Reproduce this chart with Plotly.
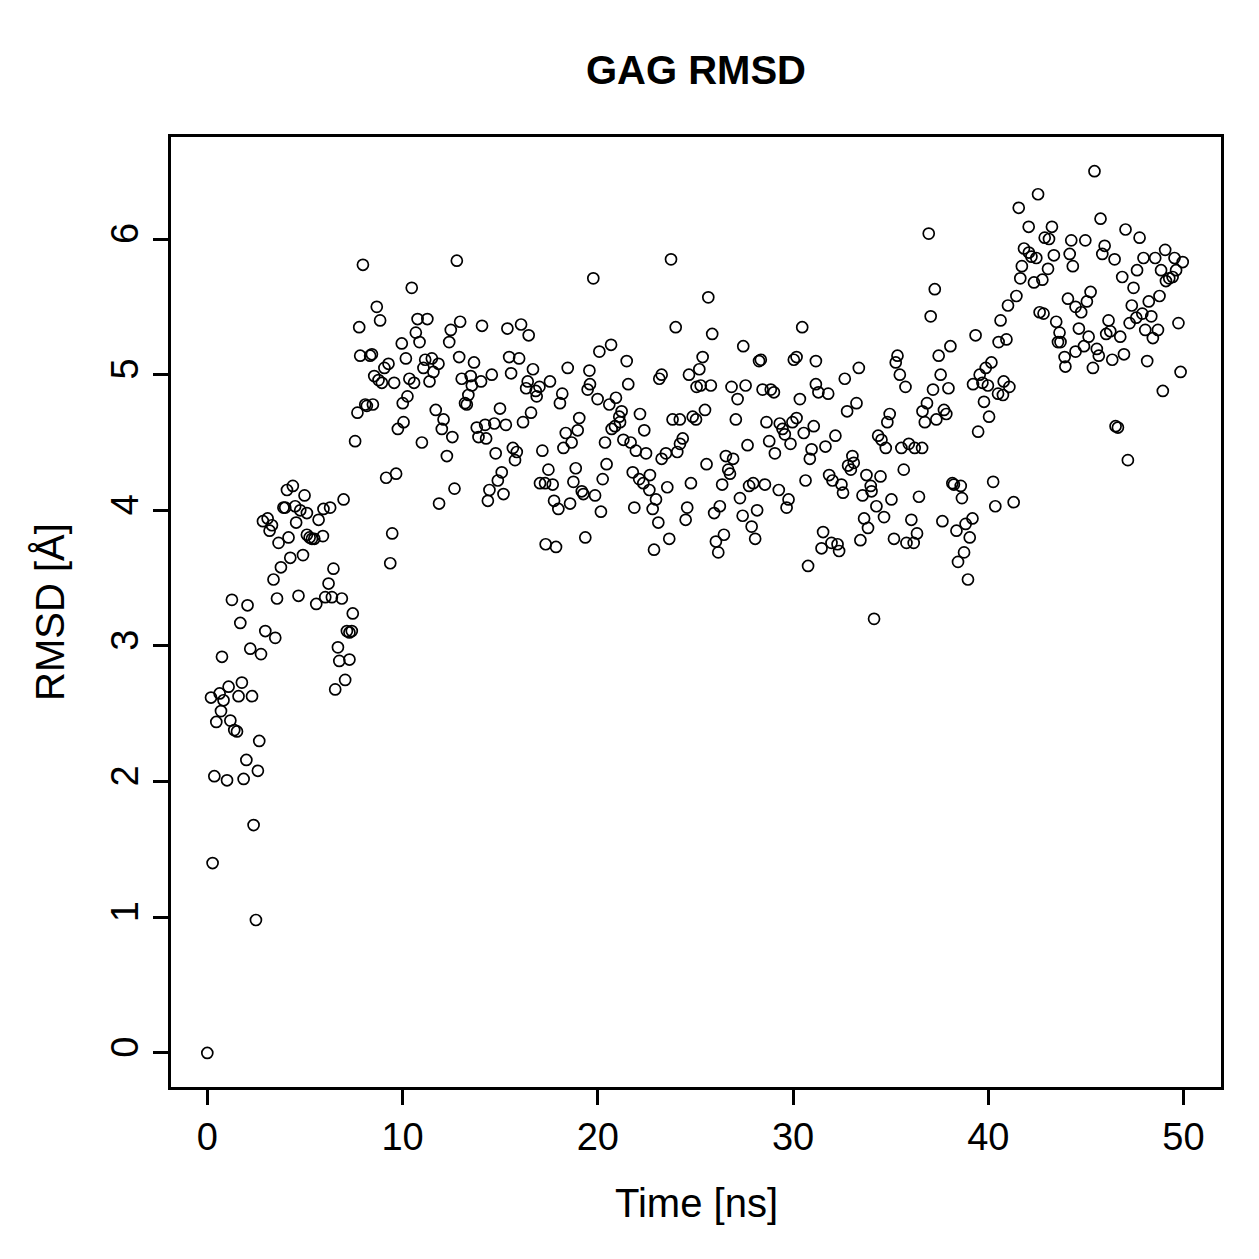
import plotly.graph_objects as go

# Time in ns
time_ns = [
    0.0, 0.19, 0.27, 0.36, 0.46, 0.63, 0.70, 0.75, 0.83, 1.01, 1.09, 1.18, 1.26, 1.38, 1.52, 1.60, 1.69, 1.77, 1.86, 2.00,
    2.06, 2.20, 2.29, 2.37, 2.49, 2.59, 2.66, 2.75, 2.85, 2.97, 3.09, 3.19, 3.31, 3.39, 3.48, 3.57, 3.65, 3.77, 3.90, 3.99,
    4.08, 4.16, 4.25, 4.38, 4.50, 4.55, 4.67, 4.76, 4.90, 4.98, 5.10, 5.10, 5.24, 5.36, 5.48, 5.58, 5.70, 5.92, 5.95, 6.04,
    6.21, 6.29, 6.38, 6.46, 6.55, 6.69, 6.76, 6.89, 6.98, 7.06, 7.15, 7.28, 7.28, 7.40, 7.45, 7.57, 7.69, 7.78, 7.83, 7.97,
    8.09, 8.17, 8.34, 8.43, 8.48, 8.55, 8.68, 8.77, 8.85, 8.94, 9.07, 9.16, 9.28, 9.37, 9.47, 9.57, 9.67, 9.76, 9.96, 10.01,
    10.05, 10.17, 10.25, 10.35, 10.47, 10.59, 10.68, 10.77, 10.87, 10.99, 11.07, 11.16, 11.27, 11.38, 11.50, 11.58, 11.70, 11.84, 11.87, 12.01,
    12.10, 12.27, 12.39, 12.47, 12.55, 12.66, 12.78, 12.90, 12.95, 13.03, 13.20, 13.29, 13.37, 13.49, 13.55, 13.66, 13.80, 13.89, 14.02, 14.07,
    14.23, 14.28, 14.37, 14.45, 14.57, 14.70, 14.77, 14.88, 14.99, 15.08, 15.17, 15.29, 15.37, 15.46, 15.56, 15.65, 15.76, 15.85, 15.97, 16.07,
    16.17, 16.33, 16.41, 16.46, 16.58, 16.68, 16.82, 16.87, 17.01, 17.04, 17.16, 17.30, 17.33, 17.47, 17.55, 17.69, 17.76, 17.86, 17.98, 18.06,
    18.18, 18.24, 18.36, 18.46, 18.58, 18.66, 18.75, 18.87, 18.97, 19.05, 19.18, 19.26, 19.36, 19.48, 19.57, 19.60, 19.77, 19.86, 19.99, 20.08,
    20.16, 20.25, 20.37, 20.45, 20.59, 20.68, 20.71, 20.88, 20.93, 21.10, 21.14, 21.22, 21.31, 21.48, 21.56, 21.68, 21.79, 21.87, 21.95, 22.12,
    22.16, 22.33, 22.38, 22.47, 22.64, 22.67, 22.81, 22.88, 22.98, 23.10, 23.15, 23.27, 23.27, 23.49, 23.56, 23.66, 23.75, 23.83, 23.99, 24.07,
    24.20, 24.21, 24.35, 24.50, 24.58, 24.67, 24.77, 24.86, 25.03, 25.06, 25.20, 25.27, 25.37, 25.49, 25.57, 25.66, 25.79, 25.86, 25.96, 26.05,
    26.17, 26.25, 26.37, 26.46, 26.56, 26.68, 26.77, 26.85, 26.93, 27.07, 27.16, 27.28, 27.42, 27.45, 27.57, 27.67, 27.75, 27.88, 27.96, 28.06,
    28.16, 28.26, 28.35, 28.44, 28.56, 28.64, 28.78, 28.86, 29.02, 29.07, 29.27, 29.32, 29.46, 29.58, 29.67, 29.77, 29.87, 29.97, 30.04, 30.18,
    30.18, 30.35, 30.47, 30.55, 30.64, 30.77, 30.86, 30.95, 31.06, 31.17, 31.17, 31.30, 31.46, 31.54, 31.66, 31.80, 31.85, 31.97, 32.02, 32.17,
    32.28, 32.36, 32.48, 32.56, 32.65, 32.77, 32.82, 32.96, 33.04, 33.11, 33.25, 33.37, 33.45, 33.56, 33.64, 33.76, 33.84, 33.98, 34.02, 34.15,
    34.27, 34.36, 34.48, 34.53, 34.66, 34.75, 34.83, 34.95, 35.04, 35.17, 35.26, 35.35, 35.47, 35.55, 35.67, 35.76, 35.81, 35.93, 36.06, 36.18,
    36.23, 36.35, 36.45, 36.61, 36.63, 36.75, 36.86, 36.95, 37.05, 37.17, 37.26, 37.34, 37.46, 37.56, 37.65, 37.73, 37.85, 37.96, 38.06, 38.16,
    38.24, 38.37, 38.45, 38.59, 38.65, 38.76, 38.84, 38.96, 39.05, 39.19, 39.22, 39.35, 39.48, 39.56, 39.70, 39.78, 39.87, 39.98, 40.04, 40.16,
    40.25, 40.36, 40.50, 40.53, 40.63, 40.75, 40.79, 40.93, 41.01, 41.08, 41.30, 41.44, 41.56, 41.64, 41.72, 41.83, 42.07, 42.08, 42.21, 42.34,
    42.46, 42.55, 42.63, 42.77, 42.83, 42.89, 43.06, 43.11, 43.26, 43.36, 43.48, 43.57, 43.65, 43.70, 43.91, 43.95, 44.08, 44.17, 44.25, 44.33,
    44.47, 44.47, 44.64, 44.76, 44.90, 44.97, 45.05, 45.14, 45.24, 45.36, 45.44, 45.56, 45.66, 45.75, 45.84, 45.96, 46.04, 46.16, 46.25, 46.35,
    46.47, 46.52, 46.64, 46.76, 46.86, 46.95, 47.03, 47.15, 47.24, 47.35, 47.44, 47.58, 47.62, 47.75, 47.89, 47.95, 48.04, 48.14, 48.22, 48.35,
    48.43, 48.55, 48.69, 48.77, 48.85, 48.94, 49.06, 49.10, 49.27, 49.44, 49.54, 49.62, 49.74, 49.85, 49.96,
]

# RMSD in Angstrom
rmsd_angstrom = [
    0.00, 2.62, 1.40, 2.04, 2.44, 2.65, 2.52, 2.92, 2.60, 2.01, 2.70, 2.45, 3.34, 2.38, 2.37, 2.63, 3.17, 2.73, 2.02, 2.16,
    3.30, 2.98, 2.63, 1.68, 0.98, 2.08, 2.30, 2.94, 3.92, 3.11, 3.94, 3.85, 3.89, 3.49, 3.06, 3.35, 3.76, 3.58, 4.02, 4.02,
    4.15, 3.80, 3.65, 4.18, 4.03, 3.91, 3.37, 4.00, 3.67, 4.11, 3.98, 3.82, 3.80, 3.79, 3.79, 3.31, 3.93, 3.81, 4.01, 3.36,
    3.46, 4.02, 3.36, 3.57, 2.68, 2.99, 2.89, 3.35, 4.08, 2.75, 3.11, 2.90, 3.10, 3.11, 3.24, 4.51, 4.72, 5.35, 5.14, 5.81,
    4.78, 4.77, 5.14, 5.15, 4.78, 4.99, 5.50, 4.96, 5.40, 4.94, 5.05, 4.24, 5.08, 3.61, 3.83, 4.94, 4.27, 4.60, 5.23, 4.79,
    4.65, 5.12, 4.84, 4.97, 5.64, 4.94, 5.31, 5.41, 5.24, 4.50, 5.05, 5.11, 5.41, 4.95, 5.12, 5.02, 4.74, 5.08, 4.05, 4.60,
    4.67, 4.40, 5.24, 5.33, 4.54, 4.16, 5.84, 5.13, 5.39, 4.97, 4.79, 4.78, 4.85, 4.99, 4.92, 5.09, 4.61, 4.54, 4.95, 5.36,
    4.63, 4.53, 4.07, 4.15, 5.00, 4.64, 4.42, 4.22, 4.75, 4.28, 4.12, 4.63, 5.34, 5.13, 5.01, 4.46, 4.37, 4.43, 5.12, 5.37,
    4.65, 4.90, 4.95, 5.29, 4.72, 5.04, 4.88, 4.84, 4.91, 4.20, 4.44, 4.20, 3.75, 4.30, 4.95, 4.19, 4.07, 3.73, 4.01, 4.79,
    4.86, 4.46, 4.57, 5.05, 4.05, 4.50, 4.21, 4.31, 4.59, 4.68, 4.14, 4.12, 3.80, 4.89, 5.03, 4.93, 5.71, 4.11, 4.82, 5.17,
    3.99, 4.23, 4.50, 4.34, 4.78, 5.22, 4.60, 4.62, 4.83, 4.69, 4.65, 4.73, 4.52, 5.10, 4.93, 4.50, 4.28, 4.02, 4.44, 4.23,
    4.71, 4.20, 4.59, 4.42, 4.15, 4.26, 4.01, 3.71, 4.08, 3.91, 4.97, 5.00, 4.38, 4.42, 4.17, 3.79, 5.85, 4.67, 5.35, 4.43,
    4.67, 4.49, 4.53, 3.93, 4.02, 5.00, 4.20, 4.69, 4.67, 4.91, 5.04, 4.92, 5.13, 4.74, 4.34, 5.57, 4.92, 5.30, 3.98, 3.77,
    3.69, 4.03, 4.19, 3.82, 4.40, 4.30, 4.27, 4.91, 4.38, 4.67, 4.82, 4.09, 3.96, 5.21, 4.92, 4.48, 4.18, 3.88, 4.20, 3.79,
    4.00, 5.10, 5.11, 4.89, 4.19, 4.65, 4.51, 4.89, 4.87, 4.42, 4.15, 4.64, 4.60, 4.56, 4.02, 4.08, 4.49, 4.65, 5.11, 5.13,
    4.68, 4.82, 5.35, 4.57, 4.22, 3.59, 4.38, 4.45, 4.62, 5.10, 4.93, 4.87, 3.72, 3.84, 4.47, 4.86, 4.26, 3.76, 4.22, 4.55,
    3.75, 3.70, 4.19, 4.13, 4.97, 4.73, 4.33, 4.30, 4.40, 4.35, 4.79, 5.05, 3.78, 4.11, 3.94, 4.26, 3.87, 4.18, 4.14, 3.20,
    4.03, 4.55, 4.25, 4.52, 3.95, 4.46, 4.65, 4.71, 4.08, 3.79, 5.09, 5.14, 5.00, 4.46, 4.30, 4.91, 3.76, 4.49, 3.93, 3.76,
    4.46, 3.83, 4.10, 4.46, 4.73, 4.65, 4.79, 6.04, 5.43, 4.89, 5.63, 4.67, 5.14, 5.00, 3.92, 4.74, 4.71, 4.90, 5.21, 4.20,
    4.19, 3.85, 3.62, 4.18, 4.09, 3.69, 3.90, 3.49, 3.80, 3.94, 4.93, 5.29, 4.58, 5.00, 4.94, 4.80, 5.05, 4.92, 4.69, 5.09,
    4.21, 4.03, 4.86, 5.24, 5.40, 4.85, 4.95, 5.26, 5.51, 4.91, 4.06, 5.58, 6.23, 5.71, 5.80, 5.93, 6.09, 5.90, 5.87, 5.68,
    5.86, 6.33, 5.46, 5.70, 5.45, 6.01, 5.78, 6.00, 6.09, 5.88, 5.39, 5.24, 5.31, 5.24, 5.13, 5.06, 5.56, 5.89, 5.99, 5.80,
    5.50, 5.17, 5.34, 5.46, 5.21, 5.99, 5.54, 5.28, 5.61, 5.05, 6.50, 5.19, 5.14, 6.15, 5.89, 5.95, 5.30, 5.40, 5.32, 5.11,
    5.85, 4.62, 4.61, 5.28, 5.72, 5.15, 6.07, 4.37, 5.38, 5.51, 5.64, 5.42, 5.77, 6.01, 5.45, 5.86, 5.33, 5.10, 5.54, 5.43,
    5.27, 5.86, 5.33, 5.58, 5.77, 4.88, 5.92, 5.69, 5.71, 5.72, 5.86, 5.77, 5.38, 5.02, 5.83,
]

x_ticks = [0, 10, 20, 30, 40, 50]
y_ticks = [0, 1, 2, 3, 4, 5, 6]

FONT = "Liberation Sans, Arial, Helvetica, sans-serif"

fig = go.Figure()
fig.add_trace(go.Scatter(
    x=time_ns, y=rmsd_angstrom, mode="markers",
    marker=dict(symbol="circle-open", size=11, color="black", line=dict(color="black", width=1.7)),
    showlegend=False,
))

axis_common = dict(
    showgrid=False, zeroline=False, showline=True, mirror=True,
    linecolor="black", linewidth=2.5,
    ticks="outside", ticklen=15, tickwidth=2.5, tickcolor="black",
    tickfont=dict(family=FONT, size=38, color="black"),
)

fig.update_layout(
    width=1259, height=1259,
    margin=dict(l=171, r=38, t=137, b=172),
    paper_bgcolor="white", plot_bgcolor="white",
    title=dict(text="<b>GAG RMSD</b>", x=696 / 1259, xanchor="center", y=1 - 70 / 1259, yanchor="middle",
               font=dict(family=FONT, size=40, color="black")),
    xaxis=dict(range=[-1.86, 51.92], tickvals=x_ticks, ticktext=[str(v) for v in x_ticks], **axis_common),
    yaxis=dict(range=[-0.251, 6.752], tickvals=y_ticks, ticktext=[str(v) for v in y_ticks], tickangle=-90,
               **axis_common),
    annotations=[
        dict(text="Time [ns]", xref="paper", yref="paper", x=0.5, y=0, xanchor="center", yanchor="middle",
             yshift=-(1203 - 1087), showarrow=False, font=dict(family=FONT, size=40, color="black")),
        dict(text="RMSD [Å]", xref="paper", yref="paper", x=0, y=0.5, xanchor="center", yanchor="middle",
             xshift=-(171 - 50), textangle=-90, showarrow=False, font=dict(family=FONT, size=40, color="black")),
    ],
)

fig.write_html("out.html")
